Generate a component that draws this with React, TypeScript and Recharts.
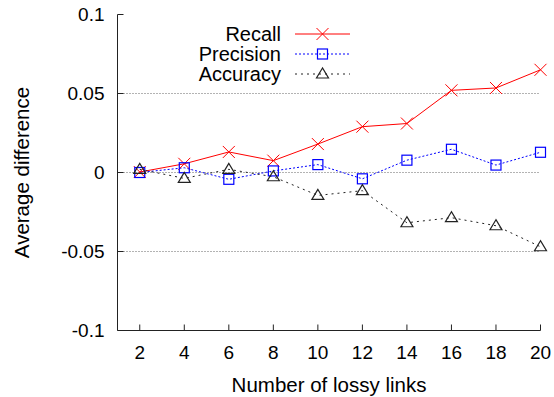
import React from 'react';
import { LineChart, Line, XAxis, YAxis, ReferenceLine } from 'recharts';

const xValues = [2, 4, 6, 8, 10, 12, 14, 16, 18, 20];
const recall = [0.0003, 0.0055, 0.013, 0.0075, 0.018, 0.029, 0.031, 0.052, 0.0535, 0.065];
const precision = [0, 0.003, -0.0043, 0.001, 0.005, -0.004, 0.0078, 0.0147, 0.0047, 0.0128];
const accuracy = [0.002, -0.0037, 0.002, -0.0027, -0.0145, -0.0115, -0.0318, -0.0286, -0.0337, -0.047];
const xTicks = [2, 4, 6, 8, 10, 12, 14, 16, 18, 20];
const yTicks = [-0.1, -0.05, 0, 0.05, 0.1];
const yTickLabels = ['-0.1', '-0.05', '0', '0.05', '0.1'];
const gridValues = [-0.05, 0, 0.05];
const seriesNames = ['Recall', 'Precision', 'Accuracy'];
const seriesKeys = ['recall', 'precision', 'accuracy'];
const seriesColors = ['#ff0000', '#0000ff', '#222222'];
const seriesDash = ['', '2 2', '2 4'];

const data = xValues.map((x, i) => ({
  x,
  recall: recall[i],
  precision: precision[i],
  accuracy: accuracy[i],
}));

const FONT = '"Liberation Sans", Arial, Helvetica, sans-serif';
const AXIS = '#222';

const Cross = ({ cx, cy, color }: any) => (
  <g>
    <line x1={cx - 6} y1={cy - 6} x2={cx + 6} y2={cy + 6} stroke={color} strokeWidth={1} />
    <line x1={cx - 6} y1={cy + 6} x2={cx + 6} y2={cy - 6} stroke={color} strokeWidth={1} />
  </g>
);
const Square = ({ cx, cy, color }: any) => (
  <rect x={cx - 5} y={cy - 5} width={10} height={10} fill="none" stroke={color} strokeWidth={1.2} />
);
const Triangle = ({ cx, cy, color }: any) => (
  <path d={`M${cx},${cy - 6} L${cx - 6},${cy + 4} L${cx + 6},${cy + 4} Z`} fill="none" stroke={color} strokeWidth={1.2} />
);
const markers = [Cross, Square, Triangle];

const makeDot = (idx: number) => (props: any) => {
  const M = markers[idx];
  if (props.cx == null || props.cy == null) return <g key={props.key} />;
  return <M key={props.key} cx={props.cx} cy={props.cy} color={seriesColors[idx]} />;
};

const BottomTick = (props: any) => {
  const { x, y, payload } = props;
  return (
    <g>
      <line x1={x} x2={x} y1={y} y2={y - 6} stroke={AXIS} />
      <text x={x} y={y + 22} textAnchor="middle" dominantBaseline="central" fontSize={19} fontFamily={FONT} fill="#000">
        {payload.value}
      </text>
    </g>
  );
};
const TopTick = (props: any) => {
  const { x, y } = props;
  return <line x1={x} x2={x} y1={y} y2={y + 6} stroke={AXIS} />;
};
const LeftTick = (props: any) => {
  const { x, y, payload } = props;
  const i = yTicks.indexOf(payload.value);
  return (
    <g>
      <line x1={x} x2={x + 6} y1={y} y2={y} stroke={AXIS} />
      <text x={x - 13} y={y} textAnchor="end" dominantBaseline="central" fontSize={19} fontFamily={FONT} fill="#000">
        {i >= 0 ? yTickLabels[i] : payload.value}
      </text>
    </g>
  );
};
const RightTick = (props: any) => {
  const { x, y } = props;
  return <line x1={x} x2={x - 6} y1={y} y2={y} stroke={AXIS} />;
};

const LegendOverlay = () => (
  <svg width={554} height={397} style={{ position: 'absolute', left: 0, top: 0, pointerEvents: 'none' }}>
    {seriesNames.map((name, i) => {
      const cy = 34 + i * 20;
      const M = markers[i];
      return (
        <g key={name}>
          <text x={281} y={cy} textAnchor="end" dominantBaseline="central" fontSize={20} fontFamily={FONT} fill="#000">
            {name}
          </text>
          <line x1={295} x2={350} y1={cy} y2={cy} stroke={seriesColors[i]} strokeDasharray={seriesDash[i] || undefined} />
          <M cx={322.5} cy={cy} color={seriesColors[i]} />
        </g>
      );
    })}
  </svg>
);

export default function App() {
  return (
    <div style={{ position: 'absolute', left: 0, top: 0, width: 554, height: 397, background: '#fff' }}>
      <style>{'body{margin:0;background:#fff}'}</style>
      <LineChart width={554} height={397} data={data} margin={{ top: 14.5, right: 13.5, left: 0, bottom: 0 }}>
        {gridValues.map((v) => (
          <ReferenceLine key={v} y={v} stroke="#666" strokeDasharray="1 2" />
        ))}
        <XAxis
          dataKey="x"
          type="number"
          domain={[1, 20]}
          ticks={xTicks}
          interval={0}
          height={66.5}
          tickSize={0}
          tickMargin={0}
          tickLine={false}
          axisLine={{ stroke: AXIS }}
          tick={<BottomTick />}
          label={{ value: 'Number of lossy links', position: 'insideBottom', offset: 5, fontSize: 20.5, fontFamily: FONT, fill: '#000' }}
        />
        <XAxis
          xAxisId="t"
          dataKey="x"
          type="number"
          orientation="top"
          domain={[1, 20]}
          ticks={xTicks}
          interval={0}
          height={0}
          tickSize={0}
          tickMargin={0}
          tickLine={false}
          axisLine={{ stroke: AXIS }}
          tick={<TopTick />}
        />
        <YAxis
          type="number"
          domain={[-0.1, 0.1]}
          ticks={yTicks}
          interval={0}
          width={117.5}
          tickSize={0}
          tickMargin={0}
          tickLine={false}
          axisLine={{ stroke: AXIS }}
          tick={<LeftTick />}
          label={{ value: 'Average difference', angle: -90, position: 'insideLeft', offset: 22, fontSize: 20.5, fontFamily: FONT, fill: '#000', style: { textAnchor: 'middle' } }}
        />
        <YAxis
          yAxisId="r"
          type="number"
          orientation="right"
          domain={[-0.1, 0.1]}
          ticks={yTicks}
          interval={0}
          width={0}
          tickSize={0}
          tickMargin={0}
          tickLine={false}
          axisLine={{ stroke: AXIS }}
          tick={<RightTick />}
        />
        {seriesKeys.map((k, i) => (
          <Line
            key={k}
            dataKey={k}
            name={seriesNames[i]}
            stroke={seriesColors[i]}
            strokeWidth={1}
            strokeDasharray={seriesDash[i] || undefined}
            dot={makeDot(i)}
            activeDot={false}
            isAnimationActive={false}
            type="linear"
          />
        ))}
      </LineChart>
      <LegendOverlay />
    </div>
  );
}
